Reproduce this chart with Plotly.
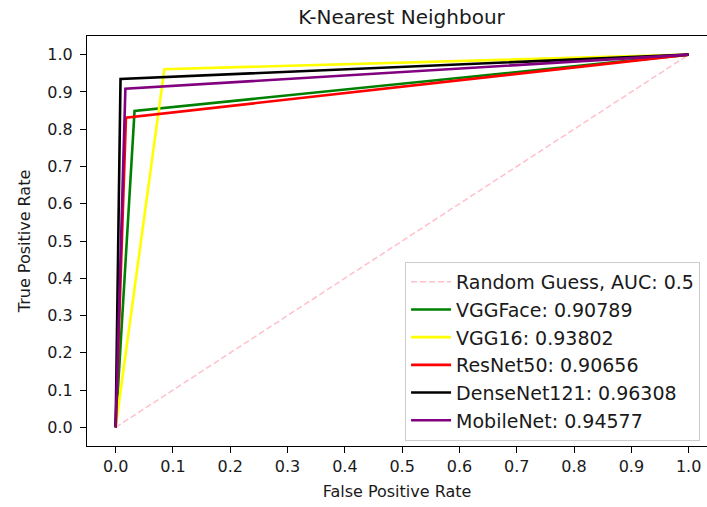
import plotly.graph_objects as go

# ROC data (fpr, tpr) for each model
random_fpr = [0, 1]
random_tpr = [0, 1]

names = ["VGGFace", "VGG16", "ResNet50", "DenseNet121", "MobileNet"]
aucs = ["0.90789", "0.93802", "0.90656", "0.96308", "0.94577"]
colors = ["green", "yellow", "red", "black", "purple"]
fprs = [
    [0, 0.033, 1],
    [0, 0.085, 1],
    [0, 0.018, 1],
    [0, 0.0085, 1],
    [0, 0.017, 1],
]
tprs = [
    [0, 0.849, 1],
    [0, 0.961, 1],
    [0, 0.831, 1],
    [0, 0.9347, 1],
    [0, 0.9085, 1],
]

x_ticks = [0.0, 0.1, 0.2, 0.3, 0.4, 0.5, 0.6, 0.7, 0.8, 0.9, 1.0]
y_ticks = [0.0, 0.1, 0.2, 0.3, 0.4, 0.5, 0.6, 0.7, 0.8, 0.9, 1.0]

FONT = "DejaVu Sans"
TXT = "#1a1a1a"

fig = go.Figure()
fig.add_trace(go.Scatter(
    x=random_fpr, y=random_tpr, mode="lines",
    line=dict(color="pink", width=1.5, dash="6px,3px"),
    name="Random Guess, AUC: 0.5",
))
for n, a, c, fx, ty in zip(names, aucs, colors, fprs, tprs):
    fig.add_trace(go.Scatter(
        x=fx, y=ty, mode="lines",
        line=dict(color=c, width=2.6),
        name=f"{n}: {a}",
    ))

fig.update_layout(
    width=707, height=507,
    margin=dict(l=87, r=0, t=36, b=61),
    paper_bgcolor="white", plot_bgcolor="white",
    font=dict(family=FONT, size=16, color=TXT),
    title=dict(text="K-Nearest Neighbour", x=0.568, xanchor="center",
               y=0.966, yanchor="middle", font=dict(size=20, family=FONT, color=TXT)),
    showlegend=True,
    legend=dict(
        x=0.513, xanchor="left", y=0.449, yanchor="top",
        bgcolor="rgba(255,255,255,0.8)", bordercolor="#cccccc", borderwidth=1,
        font=dict(size=19, family=FONT, color=TXT),
        tracegroupgap=0, itemwidth=40,
    ),
)
fig.update_xaxes(
    range=[-0.05, 1.032], tickvals=x_ticks, ticktext=[f"{v:.1f}" for v in x_ticks],
    showgrid=False, zeroline=False, showline=True, linecolor="black", linewidth=1,
    mirror=True, ticks="outside", ticklen=6, tickcolor="black",
    title=dict(text="False Positive Rate", font=dict(size=16, family=FONT), standoff=10),
)
fig.update_yaxes(
    range=[-0.05, 1.05], tickvals=y_ticks, ticktext=[f"{v:.1f}" for v in y_ticks],
    showgrid=False, zeroline=False, showline=True, linecolor="black", linewidth=1,
    mirror=False, ticks="outside", ticklen=6, tickcolor="black", ticklabelstandoff=4,
    title=dict(text="True Positive Rate", font=dict(size=16, family=FONT), standoff=12),
)

fig.write_html("out.html")
